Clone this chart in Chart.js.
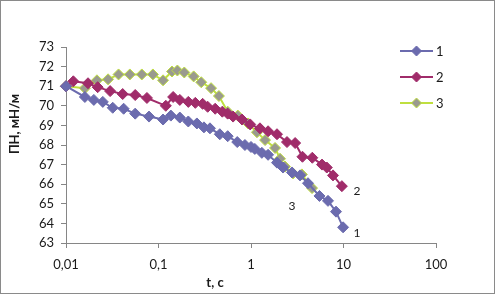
<!DOCTYPE html>
<html>
<head>
<meta charset="utf-8">
<script src="https://cdn.jsdelivr.net/npm/chart.js@4/dist/chart.umd.min.js"></script>
<style>
html,body{margin:0;padding:0;background:#fff;}
canvas{display:block;}
</style>
</head>
<body>
<canvas id="c" width="495" height="294"></canvas>
<script>
// ---- data ----
const seriesNames = ['1', '2', '3'];
const xTicks = [0.01, 0.1, 1, 10, 100];
const yMin = 63, yMax = 73;

const t1 = [0.01, 0.016, 0.02, 0.025, 0.032, 0.042, 0.056, 0.079, 0.112, 0.136, 0.17, 0.21, 0.26, 0.31, 0.36, 0.46, 0.56, 0.71, 0.86, 1.0, 1.1, 1.31, 1.53, 1.91, 2.22, 2.77, 3.39, 4.13, 5.5, 6.8, 8.3, 9.9];
const v1 = [71.0, 70.45, 70.3, 70.2, 69.9, 69.85, 69.6, 69.45, 69.3, 69.5, 69.4, 69.2, 69.1, 68.9, 68.85, 68.55, 68.45, 68.15, 68.0, 67.9, 67.8, 67.6, 67.5, 67.1, 66.85, 66.6, 66.45, 66.05, 65.4, 65.15, 64.6, 63.8];

const t2 = [0.01, 0.012, 0.0173, 0.022, 0.030, 0.041, 0.056, 0.075, 0.12, 0.144, 0.17, 0.21, 0.25, 0.30, 0.34, 0.41, 0.49, 0.56, 0.64, 0.80, 0.98, 1.25, 1.53, 1.91, 2.45, 3.0, 3.6, 4.6, 5.86, 6.6, 7.7, 9.6];
const v2 = [71.0, 71.25, 71.15, 70.95, 70.75, 70.6, 70.55, 70.4, 70.0, 70.45, 70.3, 70.2, 70.15, 70.1, 69.95, 69.85, 69.7, 69.6, 69.45, 69.3, 69.05, 68.85, 68.7, 68.55, 68.15, 68.1, 67.4, 67.35, 67.0, 66.85, 66.45, 65.9];

const t3 = [0.01, 0.016, 0.0216, 0.0285, 0.037, 0.049, 0.066, 0.087, 0.112, 0.14, 0.16, 0.19, 0.24, 0.29, 0.37, 0.45, 0.56, 0.72, 0.93, 1.16, 1.42, 1.82, 2.06, 2.33, 2.85, 3.55, 4.57];
const v3 = [71.0, 70.9, 71.3, 71.35, 71.6, 71.6, 71.6, 71.6, 71.3, 71.75, 71.8, 71.7, 71.5, 71.2, 70.9, 70.5, 69.7, 69.5, 69.1, 68.65, 68.25, 67.85, 67.3, 66.9, 66.55, 66.5, 65.8];

// ---- styling ----
const FONT = 'Lato, "Noto Sans", "DejaVu Sans", sans-serif';
const AXIS = '#868686';
const colors = [
  {line: '#6B6BAE', fill: '#6B6BAE', border: '#6B6BAE'},
  {line: '#A02C6A', fill: '#A02C6A', border: '#A02C6A'},
  {line: '#BFDF3F', fill: '#9A9A8E', border: '#BFDF3F'}
];

function pts(t, v) { return t.map((x, i) => ({x: x, y: v[i]})); }
const allT = [t1, t2, t3], allV = [v1, v2, v3];

const datasets = seriesNames.map((name, i) => ({
  label: name,
  data: pts(allT[i], allV[i]),
  borderColor: colors[i].line,
  backgroundColor: colors[i].fill,
  pointBackgroundColor: colors[i].fill,
  pointBorderColor: colors[i].border,
  pointBorderWidth: 1,
  pointStyle: 'rectRot',
  pointRadius: 5.5,
  borderWidth: 2,
  tension: 0,
  fill: false,
  clip: false
}));

function diamond(ctx, x, y, r, fill, stroke) {
  ctx.beginPath();
  ctx.moveTo(x, y - r); ctx.lineTo(x + r, y); ctx.lineTo(x, y + r); ctx.lineTo(x - r, y); ctx.closePath();
  ctx.fillStyle = fill; ctx.fill();
  ctx.lineWidth = 1; ctx.strokeStyle = stroke; ctx.stroke();
}

const decorPlugin = {
  id: 'decor',
  afterDatasetsDraw(chart) {
    const ctx = chart.ctx;
    ctx.save();
    // end-of-series labels
    const offs = [[14, 6], [15, 5], [-20, 18]];
    ctx.font = '12px ' + FONT;
    ctx.fillStyle = '#1a1a1a';
    ctx.textAlign = 'center';
    ctx.textBaseline = 'middle';
    chart.data.datasets.forEach((ds, i) => {
      const meta = chart.getDatasetMeta(i);
      const p = meta.data[meta.data.length - 1];
      ctx.fillText(ds.label, p.x + offs[i][0], p.y + offs[i][1]);
    });
    // legend
    ctx.font = '13px ' + FONT;
    ctx.textAlign = 'left';
    chart.data.datasets.forEach((ds, i) => {
      const y = 51 + 26 * i;
      ctx.beginPath();
      ctx.moveTo(400, y); ctx.lineTo(433, y);
      ctx.lineWidth = 2; ctx.strokeStyle = ds.borderColor; ctx.stroke();
      diamond(ctx, 416.5, y, 5, ds.pointBackgroundColor, ds.pointBorderColor);
      ctx.fillStyle = '#1a1a1a';
      ctx.fillText(ds.label, 436, y + 1);
    });
    ctx.restore();
  },
  afterDraw(chart) {
    const ctx = chart.ctx;
    ctx.save();
    // axis titles
    ctx.fillStyle = '#1a1a1a';
    ctx.font = 'bold 13px ' + FONT;
    ctx.textAlign = 'center';
    ctx.textBaseline = 'middle';
    ctx.fillText(chart.options.scales.x.title.text, 215, 283);
    ctx.translate(15, 124);
    ctx.rotate(-Math.PI / 2);
    ctx.fillText(chart.options.scales.y.title.text, 0, 0);
    ctx.restore();
    // outer frame
    ctx.save();
    ctx.strokeStyle = '#8a8a8a';
    ctx.lineWidth = 1;
    ctx.strokeRect(0.5, 0.5, 494, 293);
    ctx.restore();
  }
};

new Chart(document.getElementById('c'), {
  type: 'line',
  data: {datasets: datasets},
  plugins: [decorPlugin],
  options: {
    responsive: false,
    devicePixelRatio: 1,
    animation: false,
    layout: {padding: {top: 47, right: 59, left: 0, bottom: 0}},
    plugins: {legend: {display: false}, tooltip: {enabled: false}},
    scales: {
      x: {
        type: 'logarithmic',
        min: xTicks[0],
        max: xTicks[xTicks.length - 1],
        afterBuildTicks: (s) => { s.ticks = xTicks.map(v => ({value: v})); },
        afterFit: (s) => { s.height = 51; },
        title: {display: false, text: 't, с'},
        ticks: {
          autoSkip: false, maxRotation: 0, padding: 9,
          font: {family: FONT, size: 13}, color: '#1a1a1a',
          callback: (v) => String(v).replace('.', ',')
        },
        grid: {drawOnChartArea: false, drawTicks: true, tickLength: 5, color: AXIS},
        border: {color: AXIS, width: 1}
      },
      y: {
        type: 'linear',
        min: yMin, max: yMax,
        afterFit: (s) => { s.width = 66; },
        title: {display: false, text: 'ПН, мН/м'},
        ticks: {stepSize: 1, padding: 7, font: {family: FONT, size: 13}, color: '#1a1a1a'},
        grid: {drawOnChartArea: false, drawTicks: true, tickLength: 5, color: AXIS},
        border: {color: AXIS, width: 1}
      }
    }
  }
});
</script>
</body>
</html>
